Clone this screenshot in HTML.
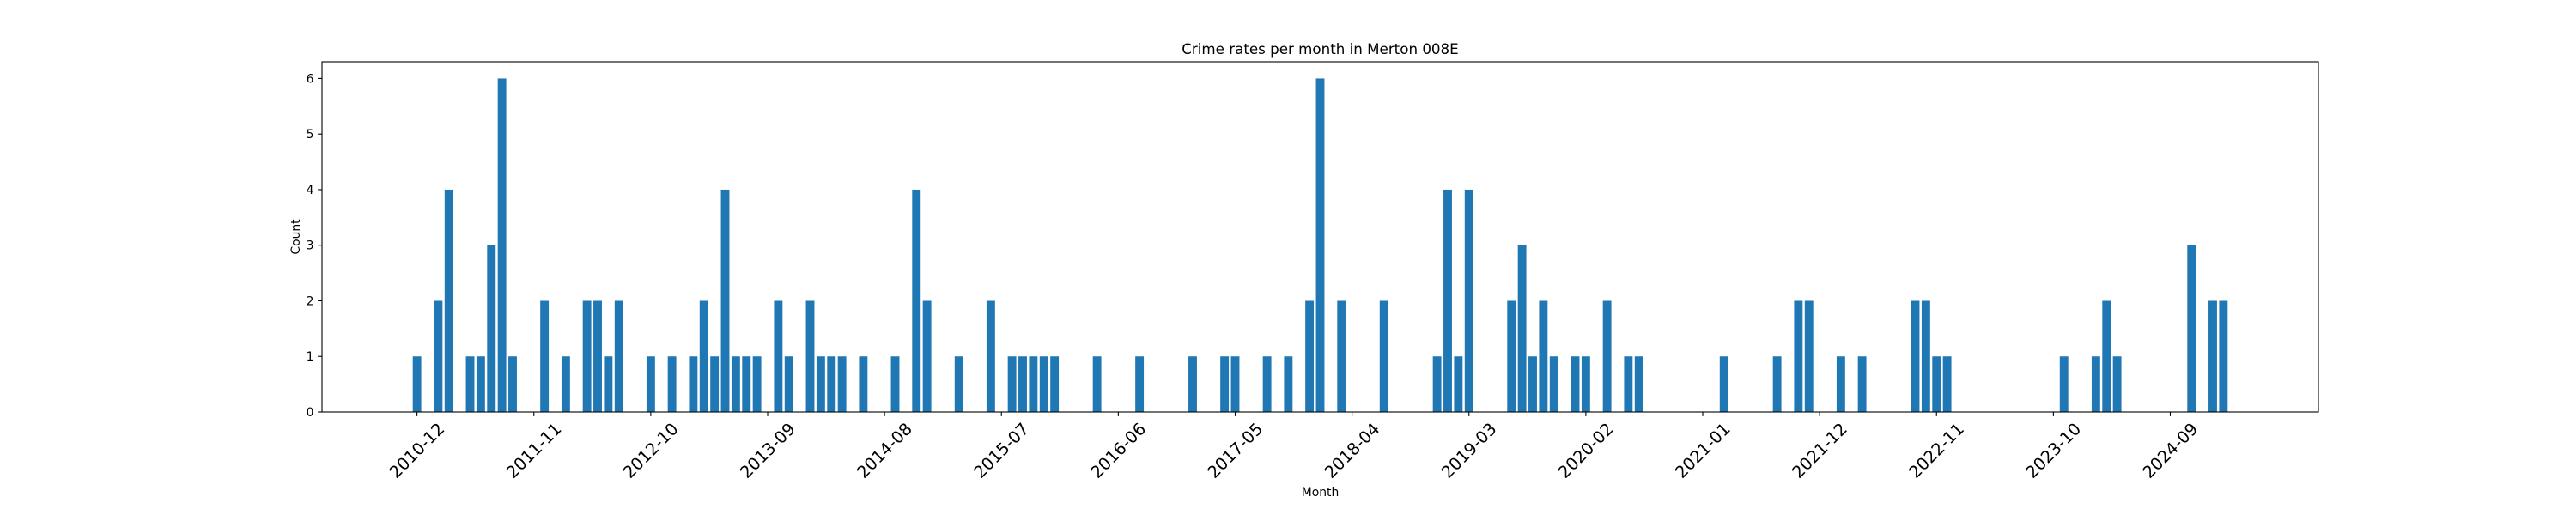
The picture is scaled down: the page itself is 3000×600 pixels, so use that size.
<!DOCTYPE html>
<html>
<head>
<meta charset="utf-8">
<style>
html,body{margin:0;padding:0;background:#fff;}
svg{display:block;font-family:"DejaVu Sans","Liberation Sans",sans-serif;}
</style>
</head>
<body>
<svg id="chart" width="3000" height="600" viewBox="0 0 3000 600" xmlns="http://www.w3.org/2000/svg">
<rect x="0" y="0" width="3000" height="600" fill="#fff"/>
<text x="1537.5" y="63" font-size="16.7" text-anchor="middle" fill="#000">Crime rates per month in Merton 008E</text>
<g id="bars"></g>
<g id="axes"></g>
<text x="1537.5" y="578" font-size="13.9" text-anchor="middle" fill="#000">Month</text>
<text x="0" y="0" font-size="13.9" text-anchor="middle" fill="#000" transform="translate(349,276) rotate(-90)">Count</text>
</svg>
<script>
// month index (0 = 2010-12) of each non-zero bar
const barMonths = [0,2,3,5,6,7,8,9,12,14,16,17,18,19,22,24,26,27,28,29,30,31,32,34,35,37,38,39,40,42,45,47,48,51,54,56,57,58,59,60,64,68,73,76,77,80,82,84,85,87,91,96,97,98,99,103,104,105,106,107,109,110,112,114,115,123,128,130,131,134,136,141,142,143,144,155,158,159,160,167,169,170];
const barCounts = [1,2,4,1,1,3,6,1,2,1,2,2,1,2,1,1,1,2,1,4,1,1,1,2,1,2,1,1,1,1,1,4,2,1,2,1,1,1,1,1,1,1,1,1,1,1,1,2,6,2,2,1,4,1,4,2,3,1,2,1,1,1,2,1,1,1,1,2,2,1,1,2,2,1,1,1,1,2,1,3,2,2];
const tickLabels = ["2010-12","2011-11","2012-10","2013-09","2014-08","2015-07","2016-06","2017-05","2018-04","2019-03","2020-02","2021-01","2021-12","2022-11","2023-10","2024-09"];
const tickMonths = [0,11,22,33,44,55,66,77,88,99,110,121,132,143,154,165];
const yTicks = [0,1,2,3,4,5,6];
const monthCount = 171;

const NS = "http://www.w3.org/2000/svg";
const L = 375, R = 2700, T = 72, B = 480;
const n = monthCount;
const span = (n - 1) + 0.8;
const xmin = -0.4 - 0.05 * span, xmax = (n - 1) + 0.4 + 0.05 * span;
const ymax = 6.3;
function xs(v){ return L + (v - xmin) / (xmax - xmin) * (R - L); }
function ys(v){ return B - v / ymax * (B - T); }
const unit = xs(1) - xs(0);

const bars = document.getElementById('bars');
for (let i = 0; i < barMonths.length; i++) {
  const r = document.createElementNS(NS, 'rect');
  
  
  const cx = xs(barMonths[i]);
  r.setAttribute('x', cx - 0.4 * unit);
  r.setAttribute('width', 0.8 * unit);
  r.setAttribute('y', ys(barCounts[i]));
  r.setAttribute('height', ys(0) - ys(barCounts[i]));
  r.setAttribute('fill', '#1f77b4');
  bars.appendChild(r);
}

const axes = document.getElementById('axes');
const frame = document.createElementNS(NS, 'rect');


frame.setAttribute('x', L); frame.setAttribute('y', T);
frame.setAttribute('width', R - L); frame.setAttribute('height', B - T);
frame.setAttribute('fill', 'none'); frame.setAttribute('stroke', '#000'); frame.setAttribute('stroke-width', '1.1');
axes.appendChild(frame);

for (let i = 0; i < yTicks.length; i++) {
  const y = ys(yTicks[i]);
  const tk = document.createElementNS(NS, 'line');
  
  
  tk.setAttribute('x1', L - 4.9); tk.setAttribute('x2', L);
  tk.setAttribute('y1', y); tk.setAttribute('y2', y);
  tk.setAttribute('stroke', '#000'); tk.setAttribute('stroke-width', '1.1');
  axes.appendChild(tk);
  const t = document.createElementNS(NS, 'text');
  
  
  t.setAttribute('x', L - 9.5); t.setAttribute('y', y + 5);
  t.setAttribute('font-size', '13.9'); t.setAttribute('text-anchor', 'end');
  t.textContent = String(yTicks[i]);
  axes.appendChild(t);
}

for (let i = 0; i < tickMonths.length; i++) {
  const x = xs(tickMonths[i]);
  const tk = document.createElementNS(NS, 'line');
  
  
  tk.setAttribute('x1', x); tk.setAttribute('x2', x);
  tk.setAttribute('y1', B); tk.setAttribute('y2', B + 4.9);
  tk.setAttribute('stroke', '#000'); tk.setAttribute('stroke-width', '1.1');
  axes.appendChild(tk);
  const t = document.createElementNS(NS, 'text');
  
  
  t.setAttribute('x', 0); t.setAttribute('y', 0);
  t.setAttribute('font-size', '19.4'); t.setAttribute('text-anchor', 'middle');
  t.setAttribute('dominant-baseline', 'central');
  t.setAttribute('transform', 'translate(' + x + ',525) rotate(-45)');
  t.textContent = tickLabels[i];
  axes.appendChild(t);
}
</script>
</body>
</html>
